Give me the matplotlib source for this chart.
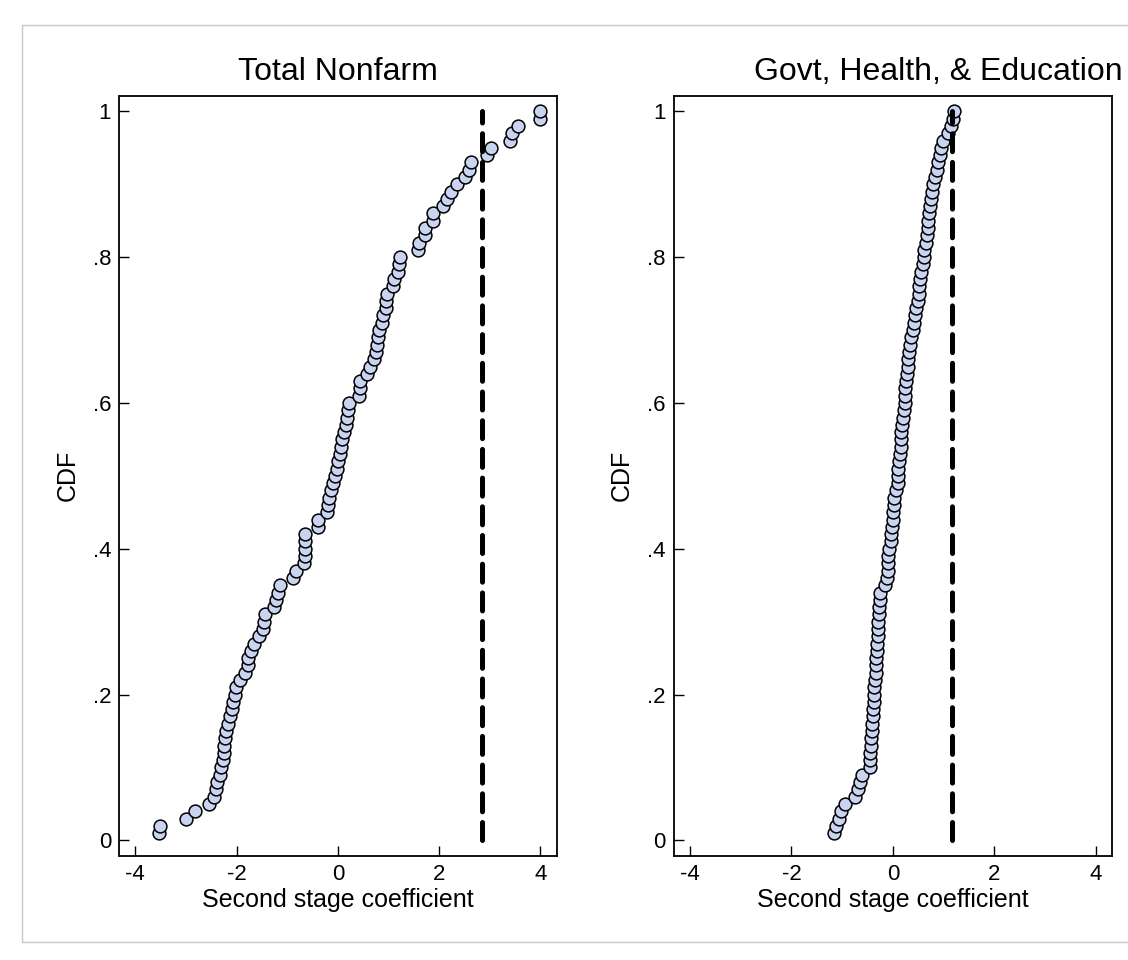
import matplotlib
matplotlib.use("Agg")
import matplotlib.pyplot as plt
import numpy as np
from matplotlib.patches import Rectangle

plt.rcParams['font.family'] = ['Liberation Sans', 'DejaVu Sans']

# ---- data ----
cdf = [round(0.01 * k, 2) for k in range(1, 101)]

nonfarm = [-3.54, -3.51, -2.99, -2.81, -2.54, -2.44, -2.40, -2.38, -2.32, -2.31,
           -2.26, -2.24, -2.24, -2.22, -2.20, -2.17, -2.13, -2.09, -2.06, -2.03,
           -2.01, -1.94, -1.84, -1.78, -1.77, -1.71, -1.65, -1.55, -1.47, -1.45,
           -1.44, -1.27, -1.22, -1.19, -1.14, -0.89, -0.82, -0.67, -0.65, -0.65,
           -0.65, -0.65, -0.40, -0.40, -0.22, -0.19, -0.17, -0.14, -0.10, -0.06,
           -0.01, 0.01, 0.04, 0.06, 0.08, 0.13, 0.16, 0.18, 0.21, 0.23,
           0.42, 0.44, 0.44, 0.58, 0.64, 0.72, 0.75, 0.77, 0.80, 0.82,
           0.87, 0.90, 0.95, 0.96, 0.98, 1.08, 1.11, 1.18, 1.21, 1.23,
           1.59, 1.61, 1.72, 1.73, 1.87, 1.88, 2.08, 2.16, 2.23, 2.36,
           2.51, 2.59, 2.63, 2.94, 3.02, 3.40, 3.43, 3.56, 3.99, 4.00]

govt = [-1.165, -1.13, -1.07, -1.02, -0.935, -0.74, -0.68, -0.65, -0.61, -0.46,
        -0.45, -0.45, -0.44, -0.43, -0.42, -0.41, -0.40, -0.40, -0.38, -0.38,
        -0.38, -0.36, -0.34, -0.33, -0.33, -0.32, -0.31, -0.30, -0.30, -0.285,
        -0.28, -0.27, -0.26, -0.25, -0.15, -0.12, -0.10, -0.10, -0.10, -0.08,
        -0.035, -0.03, -0.016, 0.0, 0.0, 0.016, 0.03, 0.06, 0.095, 0.10,
        0.11, 0.13, 0.14, 0.16, 0.16, 0.16, 0.18, 0.19, 0.21, 0.23,
        0.23, 0.24, 0.26, 0.28, 0.29, 0.29, 0.31, 0.33, 0.36, 0.39,
        0.41, 0.44, 0.46, 0.49, 0.51, 0.52, 0.54, 0.555, 0.59, 0.61,
        0.62, 0.65, 0.67, 0.69, 0.70, 0.72, 0.74, 0.75, 0.77, 0.80,
        0.84, 0.86, 0.88, 0.92, 0.95, 0.98, 1.08, 1.15, 1.18, 1.20]

titles = ["Total Nonfarm", "Govt, Health, & Education"]
ref_lines = [2.84, 1.165]
xticks = [-4, -2, 0, 2, 4]
yticks = [0, 0.2, 0.4, 0.6, 0.8, 1.0]
yticklabels = ["0", ".2", ".4", ".6", ".8", "1"]

# ---- figure ----
W, H = 1128, 960
fig = plt.figure(figsize=(W / 100, H / 100), dpi=100)
fig.patch.set_facecolor("white")

# outer graph-region border
fig.patches.append(Rectangle((22 / W, 1 - 942 / H), 1.2, (942 - 25) / H,
                             transform=fig.transFigure, fill=False,
                             edgecolor="#c8c8c8", linewidth=1.0))

def px_axes(left, top, right, bottom):
    return [left / W, 1 - bottom / H, (right - left) / W, (bottom - top) / H]

axes_rects = [px_axes(119.5, 95.7, 556.7, 855.7), px_axes(674.3, 95.7, 1112, 855.7)]
title_x = [338, 938]
ylabel_x = [68, 622]
series = [nonfarm, govt]

for i in range(2):
    ax = fig.add_axes(axes_rects[i])
    ax.scatter(series[i], cdf, s=85, facecolor="#c9d5f0", edgecolor="black",
               linewidths=1.1, zorder=3)
    ax.plot([ref_lines[i], ref_lines[i]], [0, 1], color="black", lw=3.6,
            linestyle=(0, (3.6, 2.14)), dash_capstyle="round", zorder=4)
    ax.set_xlim(-4.31, 4.32)
    ax.set_ylim(-0.021, 1.0215)
    ax.set_xticks(xticks)
    ax.set_xticklabels([str(t) for t in xticks])
    ax.set_yticks(yticks)
    ax.set_yticklabels(yticklabels)
    ax.tick_params(direction="in", length=7, width=1.0, labelsize=16, pad=6)
    for sp in ax.spines.values():
        sp.set_linewidth(1.3)
        sp.set_color("black")
    ax.set_xlabel("Second stage coefficient", fontsize=18, labelpad=2)
    fig.text(ylabel_x[i] / W, (1 - (95.7 + 855.7) / 2 / H), "CDF", fontsize=18,
             rotation=90, ha="center", va="center")
    fig.text(title_x[i] / W, 1 - 72 / H, titles[i], fontsize=23,
             ha="center", va="center")

fig.savefig("out.png", dpi=100)
